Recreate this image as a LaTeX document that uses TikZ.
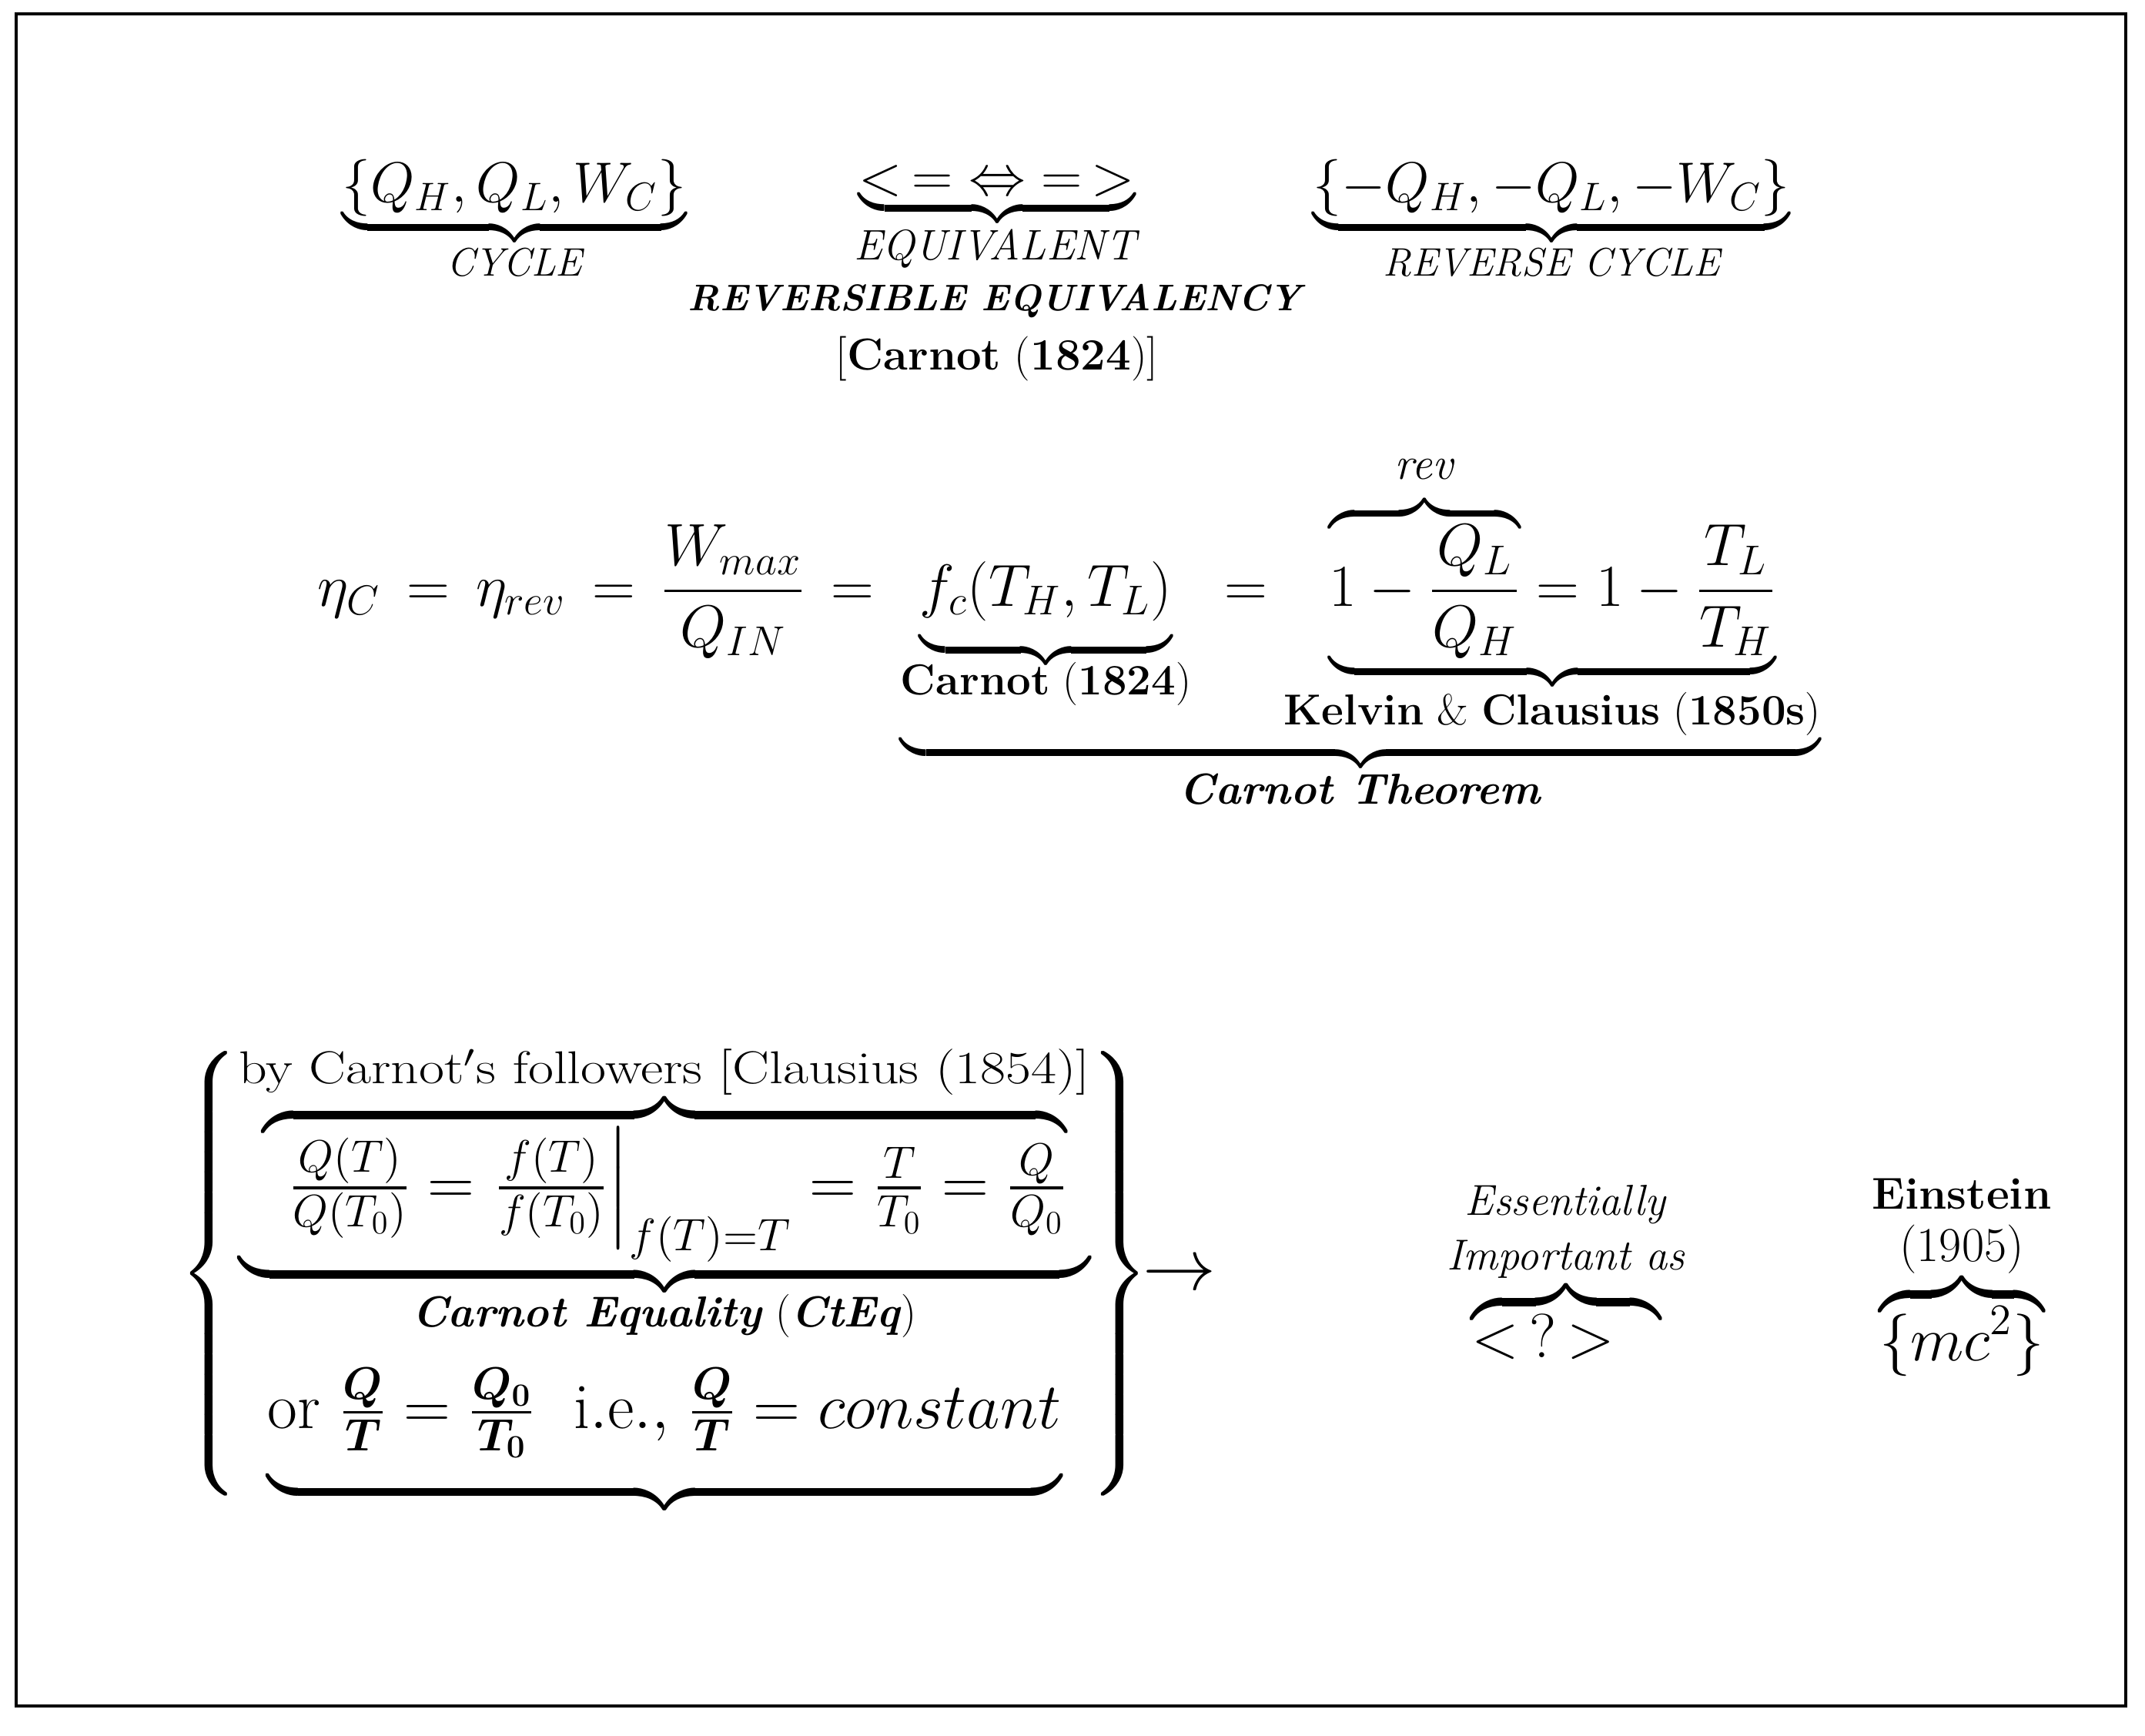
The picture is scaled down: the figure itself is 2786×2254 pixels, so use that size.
\RequirePackage{fix-cm}
\documentclass[tikz,border=0pt]{standalone}
\usepackage{amsmath}
\usepackage{bm}
\usepackage{fontspec}
\newcommand\mylbl[2]{\text{\fontsize{#1}{#1}\selectfont #2}}
\begin{document}
\begin{tikzpicture}[x=0.01cm,y=-0.01cm,
  eq/.style={inner sep=0pt, font=\fontsize{21}{25}\selectfont},
  eqmain/.style={inner sep=0pt, font=\fontsize{22}{26}\selectfont},
  eqblock/.style={inner sep=0pt, font=\fontsize{24}{29}\selectfont},
  lbl/.style={inner sep=0pt, font=\fontsize{15}{18}\selectfont}]
\useasboundingbox (0,0) rectangle (2786,2254);
\draw[line width=1pt] (21,18) rectangle (2761,2216);

\node[eq] (cyc) at (668,287) {$\underbrace{\{Q_H,Q_L,W_C\}}_{\textit{CYCLE}}$};
\node[eq] (equiv) at (1295,285) {$\underbrace{<\,=\;\Leftrightarrow\;=\,>}_{\mylbl{15.8}{\textit{EQUIVALENT}}}$};
\node[lbl, font=\fontsize{13.7}{16}\selectfont] (reveq) at (1295,391) {\textbf{\textit{REVERSIBLE EQUIVALENCY}}};
\node[lbl, font=\fontsize{16.5}{19}\selectfont] (carnotA) at (1295,466) {[\textbf{Carnot} (\textbf{1824})]};
\node[eq] (rcyc) at (2015,287) {$\underbrace{\{-Q_H,-Q_L,-W_C\}}_{\textit{REVERSE CYCLE}}$};

\node[eqmain, anchor=base west] (main) at (412,787) {$\displaystyle
\eta_C\,=\,\eta_{rev}\,=\,\frac{W_{max}}{Q_{IN}}\,=\,
\underbrace{\underbrace{f_c(T_H,T_L)\rule[-12pt]{0pt}{0pt}}_{\mylbl{16}{\raisebox{0pt}[9pt]{\textbf{Carnot} (\textbf{1824})}}}\;=
\underbrace{\overbrace{1-\frac{Q_L}{Q_H}}^{\mylbl{17}{\raisebox{0pt}[\height][6pt]{\textit{rev}}}}=1-\frac{T_L}{T_H}\rule[-20pt]{0pt}{0pt}}_{\mylbl{16}{\textbf{Kelvin} \& \textbf{Clausius} (\textbf{1850s})}}}_{\mylbl{16}{\textbf{\textit{Carnot Theorem}}}}$};

\node[eqblock] (block) at (863,1654) {\delimitershortfall=10pt$\left\{\begin{matrix}
\underbrace{\overbrace{\kern10pt\rule{0pt}{25pt}\tfrac{Q(T)}{Q(T_0)}=\left.\tfrac{f(T)}{f(T_0)}\right|_{f(T)=T}=\tfrac{T}{T_0}=\tfrac{Q}{Q_0}}^{\mylbl{17}{\scalebox{1.2}[1]{by Carnot$'$s followers [Clausius (1854)]}}}}_{\mylbl{16}{\raisebox{0pt}[6pt]{\textbf{\textit{Carnot Equality}} (\textbf{\textit{CtEq}})}}}\\
\underbrace{\rule{0pt}{31pt}\text{or }\tfrac{\bm{Q}}{\bm{T}}=\tfrac{\bm{Q}_{\bm{0}}}{\bm{T}_{\bm{0}}}\ \ \mathrm{i.e.,}\ \tfrac{\bm{Q}}{\bm{T}}=constant\rule[-19pt]{0pt}{0pt}}
\end{matrix}\right\}$};
\node[eq, font=\fontsize{27}{30}\selectfont] (arr) at (1532,1658) {$\rightarrow$};

\node[eq, font=\fontsize{23}{27}\selectfont] (imp) at (2034,1648) {$\overbrace{{<}\,{?}\,{>}\kern17pt}^{\mylbl{16}{\begin{tabular}{@{}c@{}}\textit{Essentially}\\[4pt] \textit{Important as}\end{tabular}}}$};
\node[eq, font=\fontsize{23}{27}\selectfont] (ein) at (2548,1654) {$\overbrace{\{mc^2\}}^{\mylbl{16.5}{\begin{tabular}{@{}c@{}}\textbf{Einstein}\\[1pt] \fontsize{18}{18}\selectfont(1905)\end{tabular}}}$};
\end{tikzpicture}
\end{document}
